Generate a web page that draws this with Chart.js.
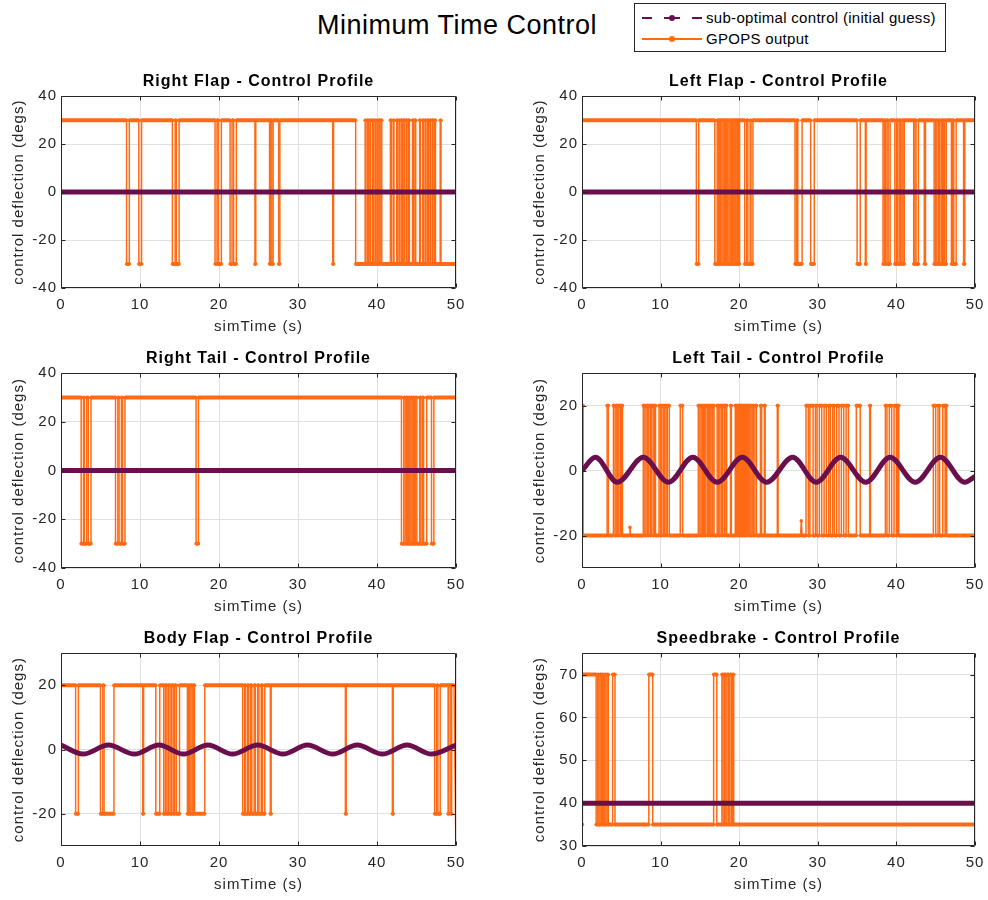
<!DOCTYPE html>
<html>
<head>
<meta charset="utf-8">
<title>Minimum Time Control</title>
<script src="https://cdn.jsdelivr.net/npm/chart.js@4.4.1/dist/chart.umd.min.js"></script>
<style>
  html, body { margin: 0; padding: 0; background: #fff; }
  #fig { position: relative; width: 988px; height: 900px; overflow: hidden; font-family: 'Liberation Sans', Arial, sans-serif; }
  #fig canvas { position: absolute; }
  #suptitle { position: absolute; left: 257px; top: 9px; width: 400px; text-align: center; font-size: 27px; letter-spacing: 0.5px; line-height: 32px; color: #000; }
  #legend { position: absolute; left: 634px; top: 3px; width: 312px; height: 49px; box-sizing: border-box; border: 1px solid #262626; padding-top: 3px; font-size: 15px; letter-spacing: 0.3px; color: #000; background: #fff; }
  .entry { position: relative; height: 21px; line-height: 21px; padding-left: 71px; white-space: nowrap; }
  .swatch { position: absolute; left: 7px; top: 10px; width: 60px; height: 2px; }
  .swatch i { position: absolute; left: 27px; top: -2px; width: 6px; height: 6px; border-radius: 50%; }
  .guess { background: linear-gradient(to right, #6a0f4b 0 10px, transparent 10px 22px, #6a0f4b 22px 38px, transparent 38px 50px, #6a0f4b 50px 60px); }
  .guess i { background: #6a0f4b; }
  .gpops { background: #ff6a14; }
  .gpops i { background: #ff6a14; }
</style>
</head>
<body>
<div id="fig">
  <div id="suptitle">Minimum Time Control</div>
  <div id="legend">
    <div class="entry"><span class="swatch guess"><i></i></span>sub-optimal control (initial guess)</div>
    <div class="entry"><span class="swatch gpops"><i></i></span>GPOPS output</div>
  </div>
</div>
<script>
// ---- data -------------------------------------------------------------
const timeTicks = [0, 10, 20, 30, 40, 50];
const flapTicks = [-40, -20, 0, 20, 40];
const tailTicks = [-20, 0, 20];
const brakeTicks = [30, 40, 50, 60, 70];

// initial guess, [time, deflection] knots
const rightFlapGuess = [[0, 0], [50, 0]];
const leftFlapGuess = [[0, 0], [50, 0]];
const rightTailGuess = [[0, 0], [50, 0]];
const leftTailGuess = [[0, 0], [1.7, 4.1], [4.5, -3.6], [7.8, 4.1], [11.0, -3.6], [14.1, 4.1], [17.2, -3.6],
  [20.4, 4.1], [23.5, -3.6], [26.8, 4.1], [29.8, -3.6], [32.9, 4.1], [36.1, -3.6], [39.2, 4.1],
  [42.4, -3.6], [45.6, 4.1], [48.7, -3.6], [50, -1.8]];
const bodyFlapGuess = [[0, 1.4], [2.8, -1.4], [6.0, 1.4], [9.3, -1.4], [12.4, 1.4], [15.5, -1.4], [18.6, 1.4],
  [21.7, -1.4], [24.9, 1.4], [28.1, -1.4], [31.2, 1.4], [34.4, -1.4], [37.5, 1.4], [40.7, -1.4],
  [43.8, 1.4], [46.9, -1.4], [50, 1.4]];
const speedbrakeGuess = [[0, 40], [50, 40]];

// GPOPS bang-bang output: [start level, other level] and the switching times
const rightFlapLevels = [30, -30];
const rightFlapSwitches = [8.3, 8.65, 9.85, 10.2, 14.1, 14.45, 14.6, 14.95, 19.5, 19.75, 19.9, 20.3,
  21.4, 21.65, 21.85, 22.2, 24.55, 24.65, 26.4, 26.55, 26.7, 26.85, 27.55, 27.7, 34.4, 34.5, 37.3,
  38.5, 38.6, 38.8, 38.9, 39.1, 39.2, 39.45, 39.55, 39.75, 39.85, 40.0, 40.1, 40.25, 40.35, 40.5, 40.6,
  41.7, 41.8, 42.05, 42.15, 42.5, 42.6, 42.8, 42.9, 43.1, 43.2, 43.4, 43.5, 43.7, 43.8, 44.0, 44.1,
  44.5, 44.6, 44.8, 44.9, 45.4, 45.5, 45.8, 45.9, 46.1, 46.2, 46.4, 46.5, 46.7, 46.8, 47.0, 47.1,
  47.3, 47.4, 48.0, 48.1];

const leftFlapLevels = [30, -30];
const leftFlapSwitches = [14.55, 14.85,
  16.9, 17.2, 17.35, 17.5, 17.65, 17.8, 17.95, 18.1, 18.25, 18.4, 18.55, 18.7, 18.85, 19.0, 19.15, 19.3,
  19.45, 19.55, 19.7, 19.8, 19.9, 20.05,
  20.7, 20.95, 21.1, 21.4, 21.5, 21.75,
  27.1, 27.3, 27.45, 28.0, 29.1, 29.55,
  35.0, 35.4, 36.05, 36.15,
  38.3, 38.45, 38.6, 38.8, 38.95, 39.2,
  39.8, 40.0, 40.15, 40.35, 40.5, 40.7, 40.85, 41.0,
  42.2, 42.35, 42.5, 42.8, 43.55, 43.7,
  44.8, 45.0, 45.15, 45.35, 45.5, 45.7, 45.85, 46.0, 46.15, 46.35,
  47.0, 47.15, 47.3, 47.6, 48.55, 48.7];

const rightTailLevels = [30, -30];
const rightTailSwitches = [2.55, 2.85, 2.95, 3.25, 3.45, 3.8,
  6.9, 7.2, 7.35, 7.65, 7.8, 8.1,
  17.1, 17.4,
  43.1, 43.4, 43.55, 43.7, 43.85, 44.0, 44.15, 44.3, 44.45, 44.6, 44.75, 44.9, 45.05, 45.4,
  45.55, 45.75, 45.9, 46.3, 46.9, 47.2];

const leftTailLevels = [20, -20];
const leftTailSwitches = [0.15,
  3.2, 3.35,
  4.0, 4.2, 4.35, 4.55, 4.7, 4.9, 5.0, 5.15,
  7.8, 8.0, 8.15, 8.35, 8.5, 8.7, 8.85, 9.05, 9.2, 9.35,
  9.8, 10.0, 10.15, 10.35, 10.5, 10.7, 10.85, 11.1,
  12.5, 12.8,
  14.8, 15.0, 15.15, 15.3, 15.45, 15.6, 15.75, 15.95, 16.1, 16.25, 16.4, 16.55, 16.65, 16.8,
  17.2, 17.4, 17.55, 17.75, 17.9, 18.1, 18.2, 18.4,
  18.9, 19.0,
  19.5, 19.6, 19.7, 19.8, 19.9, 20.0, 20.1, 20.2, 20.3, 20.4, 20.5, 20.6, 20.7, 20.8, 20.9, 21.0,
  21.1, 21.2, 21.35, 21.5, 21.65, 21.8, 22.0, 22.2, 22.7, 22.85, 23.2, 23.3,
  24.85, 24.95,
  28.5, 28.8, 29.0, 29.4, 29.7, 29.9, 30.2, 30.5, 30.8, 31.1, 31.4, 31.6, 31.9, 32.1, 32.4, 32.7,
  33.0, 33.3, 33.6, 33.9,
  34.9, 35.4, 36.6, 36.7,
  38.6, 38.8, 39.1, 39.4, 39.7, 40.0, 40.15, 40.3,
  44.7, 45.0, 45.3, 45.5, 45.9, 46.2, 46.3, 46.4];
const leftTailBlips = [[6.1, -17.5], [27.9, -15.5]];

const bodyFlapLevels = [20, -20];
const bodyFlapSwitches = [1.85, 2.2,
  5.0, 5.3, 5.45, 6.7,
  10.35, 10.45, 12.0, 12.5,
  13.0, 13.2, 13.4, 13.6, 13.8, 14.0, 14.2, 14.4, 14.6, 15.0,
  16.0, 16.15, 16.3, 16.45, 16.6, 16.75, 16.9, 18.2,
  23.0, 23.25, 23.35, 23.6, 23.75, 24.0, 24.15, 24.45, 24.6, 24.9, 25.05, 25.35, 25.5, 25.8, 26.5, 26.6,
  36.0, 36.1, 41.95, 42.05,
  47.3, 47.55, 47.7, 48.0,
  49.0, 49.1, 49.35, 49.45];
const bodyFlapEnd = [[49.75, 20], [50, -34]];

const speedbrakeLevels = [35, 70];
const speedbrakeSwitches = [0.05, 1.8,
  2.0, 2.15, 2.3, 2.45, 2.6, 2.75, 2.9, 3.05, 3.2, 3.35,
  3.9, 4.2, 8.5, 9.0, 16.75, 17.15,
  17.8, 17.95, 18.1, 18.3, 18.45, 18.65, 18.8, 19.0, 19.15, 19.3];

// ---- helpers ----------------------------------------------------------
const toXY = knots => knots.map(([x, y]) => ({ x, y }));

// step series: hold a level, flip to the other level at each switching time
function stepSeries(levels, switches, blips = [], end = null) {
  let k = 0;
  const pts = [{ x: 0, y: levels[0] }];
  switches.forEach(t => {
    pts.push({ x: t, y: levels[k] });
    k = 1 - k;
    pts.push({ x: t, y: levels[k] });
  });
  if (end) end.forEach(([x, y]) => pts.push({ x, y }));
  else pts.push({ x: 50, y: levels[k] });

  blips.forEach(([t, v]) => {
    const base = pts.filter(p => p.x <= t).pop().y;
    pts.push({ x: t - 0.1, y: base }, { x: t, y: v }, { x: t + 0.1, y: base });
  });
  return pts.sort((a, b) => a.x - b.x);
}

const GUESS = '#6a0f4b';
const GPOPS = '#ff6a14';
const FONT = "'Liberation Sans', Arial, Helvetica, sans-serif";

Chart.defaults.font.family = FONT;
Chart.defaults.color = '#262626';

// wider text tracking, set again after every canvas reset
const tracking = {
  id: 'tracking',
  beforeLayout(chart) { chart.ctx.letterSpacing = '1px'; },
  beforeDraw(chart) { chart.ctx.letterSpacing = '1px'; },
};

// MATLAB-style closed axes box with inward ticks
const axesBox = {
  id: 'axesBox',
  afterDatasetsDraw(chart) {
    const { ctx, chartArea: a, scales: { x, y } } = chart;
    const L = Math.round(a.left) + 0.5, R = Math.round(a.right) - 0.5;
    const T = Math.round(a.top) + 0.5, B = Math.round(a.bottom) - 0.5;
    ctx.save();
    ctx.strokeStyle = '#262626';
    ctx.lineWidth = 1;
    ctx.beginPath();
    x.ticks.forEach(t => {
      const px = Math.round(x.getPixelForValue(t.value)) + 0.5;
      ctx.moveTo(px, B); ctx.lineTo(px, B - 4);
      ctx.moveTo(px, T); ctx.lineTo(px, T + 4);
    });
    y.ticks.forEach(t => {
      const py = Math.round(y.getPixelForValue(t.value)) + 0.5;
      ctx.moveTo(L, py); ctx.lineTo(L + 4, py);
      ctx.moveTo(R, py); ctx.lineTo(R - 4, py);
    });
    ctx.rect(L, T, R - L, B - T);
    ctx.stroke();
    ctx.restore();
  }
};

const panels = [
  { title: 'Right Flap - Control Profile', yMin: -40, yMax: 40, yTicks: flapTicks,
    guess: toXY(rightFlapGuess), output: stepSeries(rightFlapLevels, rightFlapSwitches) },
  { title: 'Left Flap - Control Profile', yMin: -40, yMax: 40, yTicks: flapTicks,
    guess: toXY(leftFlapGuess), output: stepSeries(leftFlapLevels, leftFlapSwitches) },
  { title: 'Right Tail - Control Profile', yMin: -40, yMax: 40, yTicks: flapTicks,
    guess: toXY(rightTailGuess), output: stepSeries(rightTailLevels, rightTailSwitches) },
  { title: 'Left Tail - Control Profile', yMin: -30, yMax: 30, yTicks: tailTicks,
    guess: toXY(leftTailGuess), output: stepSeries(leftTailLevels, leftTailSwitches, leftTailBlips) },
  { title: 'Body Flap - Control Profile', yMin: -30, yMax: 30, yTicks: tailTicks,
    guess: toXY(bodyFlapGuess), output: stepSeries(bodyFlapLevels, bodyFlapSwitches, [], bodyFlapEnd) },
  { title: 'Speedbrake - Control Profile', yMin: 30, yMax: 75, yTicks: brakeTicks,
    guess: toXY(speedbrakeGuess), output: stepSeries(speedbrakeLevels, speedbrakeSwitches) },
];

// canvas frames: 61px y-axis band, ~30px title band, 48px x-axis band, 12px right margin
const frames = [
  { left: 0, top: 66, width: 468, height: 270 },
  { left: 521, top: 66, width: 466, height: 270 },
  { left: 0, top: 343, width: 468, height: 273 },
  { left: 521, top: 343, width: 466, height: 273 },
  { left: 0, top: 623, width: 468, height: 271 },
  { left: 521, top: 623, width: 466, height: 271 },
];

const fig = document.getElementById('fig');

panels.forEach((p, i) => {
  const f = frames[i];
  const canvas = document.createElement('canvas');
  canvas.width = f.width;
  canvas.height = f.height;
  canvas.style.left = f.left + 'px';
  canvas.style.top = f.top + 'px';
  fig.appendChild(canvas);

  new Chart(canvas, {
    type: 'line',
    data: {
      datasets: [
        {
          label: 'sub-optimal control (initial guess)',
          data: p.guess,
          borderColor: GUESS,
          borderWidth: 5,
          pointRadius: 0,
          cubicInterpolationMode: 'monotone',
        },
        {
          label: 'GPOPS output',
          data: p.output,
          borderColor: GPOPS,
          backgroundColor: GPOPS,
          borderWidth: 1.5,
          pointRadius: 1.8,
          pointBorderWidth: 0,
          pointBackgroundColor: GPOPS,
          tension: 0,
          segment: {
            borderWidth: c => (c.p0.parsed.y === c.p1.parsed.y ? 4 : 1.5),
          },
        },
      ],
    },
    options: {
      responsive: false,
      animation: false,
      devicePixelRatio: 1,
      events: [],
      layout: { padding: { top: 0, right: 12, bottom: 0, left: 0 } },
      plugins: {
        legend: { display: false },
        tooltip: { enabled: false },
        title: {
          display: true,
          text: p.title,
          fullSize: false,
          color: '#000',
          font: { size: 16, weight: 'bold' },
          padding: { top: 6, bottom: 5 },
        },
      },
      scales: {
        x: {
          type: 'linear',
          min: 0,
          max: 50,
          afterBuildTicks: s => { s.ticks = timeTicks.map(v => ({ value: v })); },
          afterFit: s => { s.height = 48; s.paddingLeft = 0; s.paddingRight = 0; },
          ticks: { font: { size: 15 }, padding: 8, maxRotation: 0 },
          grid: { color: '#dfdfdf', drawTicks: false },
          border: { display: false },
          title: { display: true, text: 'simTime (s)', font: { size: 15 }, padding: { top: 0, bottom: 0 } },
        },
        y: {
          type: 'linear',
          min: p.yMin,
          max: p.yMax,
          afterBuildTicks: s => { s.ticks = p.yTicks.map(v => ({ value: v })); },
          afterFit: s => { s.width = 61; },
          ticks: { font: { size: 15 }, padding: 4 },
          grid: { color: '#dfdfdf', drawTicks: false },
          border: { display: false },
          title: { display: true, text: 'control deflection (degs)', font: { size: 15 }, padding: { top: 10, bottom: 0 } },
        },
      },
    },
    plugins: [tracking, axesBox],
  });
});
</script>
</body>
</html>
